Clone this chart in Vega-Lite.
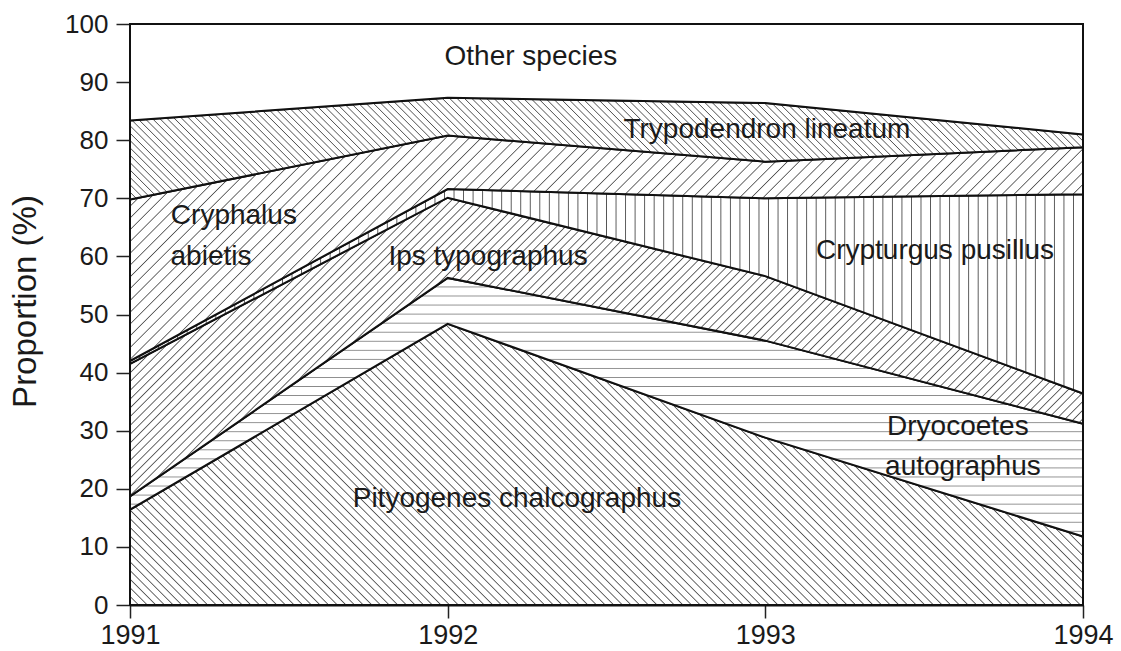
{
  "$schema": "https://vega.github.io/schema/vega-lite/v6.json",
  "width": 953,
  "height": 581,
  "autosize": "none",
  "padding": {"left": 130, "top": 24, "right": 38, "bottom": 46},
  "background": "white",
  "config": {"view": {"stroke": "#111", "strokeWidth": 2}, "font": "Liberation Sans"},
  "layer": [
    {
      "data": {
        "values": [
          {"species": "Pityogenes chalcographus", "rank": 1, "year": 1991, "pct": 16.4},
          {"species": "Pityogenes chalcographus", "rank": 1, "year": 1992, "pct": 48.4},
          {"species": "Pityogenes chalcographus", "rank": 1, "year": 1993, "pct": 28.8},
          {"species": "Pityogenes chalcographus", "rank": 1, "year": 1994, "pct": 11.8},
          {"species": "Dryocoetes autographus", "rank": 2, "year": 1991, "pct": 2.3},
          {"species": "Dryocoetes autographus", "rank": 2, "year": 1992, "pct": 7.9},
          {"species": "Dryocoetes autographus", "rank": 2, "year": 1993, "pct": 16.7},
          {"species": "Dryocoetes autographus", "rank": 2, "year": 1994, "pct": 19.4},
          {"species": "Ips typographus", "rank": 3, "year": 1991, "pct": 22.8},
          {"species": "Ips typographus", "rank": 3, "year": 1992, "pct": 13.8},
          {"species": "Ips typographus", "rank": 3, "year": 1993, "pct": 11.1},
          {"species": "Ips typographus", "rank": 3, "year": 1994, "pct": 5.2},
          {"species": "Crypturgus pusillus", "rank": 4, "year": 1991, "pct": 0.5},
          {"species": "Crypturgus pusillus", "rank": 4, "year": 1992, "pct": 1.5},
          {"species": "Crypturgus pusillus", "rank": 4, "year": 1993, "pct": 13.4},
          {"species": "Crypturgus pusillus", "rank": 4, "year": 1994, "pct": 34.3},
          {"species": "Cryphalus abietis", "rank": 5, "year": 1991, "pct": 27.8},
          {"species": "Cryphalus abietis", "rank": 5, "year": 1992, "pct": 9.2},
          {"species": "Cryphalus abietis", "rank": 5, "year": 1993, "pct": 6.3},
          {"species": "Cryphalus abietis", "rank": 5, "year": 1994, "pct": 8.1},
          {"species": "Trypodendron lineatum", "rank": 6, "year": 1991, "pct": 13.6},
          {"species": "Trypodendron lineatum", "rank": 6, "year": 1992, "pct": 6.5},
          {"species": "Trypodendron lineatum", "rank": 6, "year": 1993, "pct": 10.1},
          {"species": "Trypodendron lineatum", "rank": 6, "year": 1994, "pct": 2.2},
          {"species": "Other species", "rank": 7, "year": 1991, "pct": 16.6},
          {"species": "Other species", "rank": 7, "year": 1992, "pct": 12.7},
          {"species": "Other species", "rank": 7, "year": 1993, "pct": 13.6},
          {"species": "Other species", "rank": 7, "year": 1994, "pct": 19.0}
        ]
      },
      "transform": [
        {"stack": "pct", "groupby": ["year"], "sort": [{"field": "rank", "order": "ascending"}], "as": ["y0", "y1"]}
      ],
      "encoding": {
        "x": {
          "field": "year", "type": "quantitative",
          "scale": {"domain": [1991, 1994], "nice": false, "zero": false},
          "axis": {
            "values": [1991, 1992, 1993, 1994], "format": "d", "title": null, "grid": false,
            "labelFontSize": 27, "labelColor": "#1a1a1a", "labelPadding": 4, "labelFlush": false,
            "tickSize": 13, "tickWidth": 1.5, "tickColor": "#222",
            "domainColor": "#111", "domainWidth": 2
          }
        },
        "y": {
          "field": "y1", "type": "quantitative",
          "scale": {"domain": [0, 100], "nice": false},
          "axis": {
            "values": [0, 10, 20, 30, 40, 50, 60, 70, 80, 90, 100], "grid": false,
            "labelFontSize": 26, "labelColor": "#1a1a1a", "labelPadding": 8,
            "tickSize": 14, "tickWidth": 1.5, "tickColor": "#222",
            "domainColor": "#111", "domainWidth": 2,
            "title": "Proportion (%)", "titleFontSize": 33, "titleFontWeight": "normal",
            "titleColor": "#1a1a1a", "titleBaseline": "alphabetic", "titleX": -95, "titleY": 277
          }
        },
        "y2": {"field": "y0"}
      },
      "layer": [
        {
          "transform": [{"filter": "datum.rank == 1"}],
          "mark": {"type": "area", "stroke": "#111", "strokeWidth": 2, "strokeJoin": "miter",
            "fill": {"gradient": "linear", "x1": 0, "y1": 1, "x2": 1.1914, "y2": 0.6484, "stops": [
{"offset":0,"color":"#555"},{"offset":0.001,"color":"#fff"},{"offset":0.006,"color":"#fff"},
{"offset":0.007,"color":"#555"},{"offset":0.008,"color":"#fff"},{"offset":0.013,"color":"#fff"},
{"offset":0.014,"color":"#555"},{"offset":0.015,"color":"#fff"},{"offset":0.02,"color":"#fff"},
{"offset":0.021,"color":"#555"},{"offset":0.022,"color":"#fff"},{"offset":0.027,"color":"#fff"},
{"offset":0.028,"color":"#555"},{"offset":0.029,"color":"#fff"},{"offset":0.034,"color":"#fff"},
{"offset":0.035,"color":"#555"},{"offset":0.036,"color":"#fff"},{"offset":0.041,"color":"#fff"},
{"offset":0.042,"color":"#555"},{"offset":0.043,"color":"#fff"},{"offset":0.048,"color":"#fff"},
{"offset":0.049,"color":"#555"},{"offset":0.05,"color":"#fff"},{"offset":0.055,"color":"#fff"},
{"offset":0.056,"color":"#555"},{"offset":0.057,"color":"#fff"},{"offset":0.062,"color":"#fff"},
{"offset":0.063,"color":"#555"},{"offset":0.064,"color":"#fff"},{"offset":0.069,"color":"#fff"},
{"offset":0.07,"color":"#555"},{"offset":0.071,"color":"#fff"},{"offset":0.076,"color":"#fff"},
{"offset":0.077,"color":"#555"},{"offset":0.078,"color":"#fff"},{"offset":0.083,"color":"#fff"},
{"offset":0.084,"color":"#555"},{"offset":0.085,"color":"#fff"},{"offset":0.09,"color":"#fff"},
{"offset":0.091,"color":"#555"},{"offset":0.092,"color":"#fff"},{"offset":0.097,"color":"#fff"},
{"offset":0.098,"color":"#555"},{"offset":0.099,"color":"#fff"},{"offset":0.104,"color":"#fff"},
{"offset":0.105,"color":"#555"},{"offset":0.106,"color":"#fff"},{"offset":0.111,"color":"#fff"},
{"offset":0.112,"color":"#555"},{"offset":0.113,"color":"#fff"},{"offset":0.118,"color":"#fff"},
{"offset":0.119,"color":"#555"},{"offset":0.12,"color":"#fff"},{"offset":0.125,"color":"#fff"},
{"offset":0.126,"color":"#555"},{"offset":0.127,"color":"#fff"},{"offset":0.132,"color":"#fff"},
{"offset":0.133,"color":"#555"},{"offset":0.134,"color":"#fff"},{"offset":0.139,"color":"#fff"},
{"offset":0.14,"color":"#555"},{"offset":0.141,"color":"#fff"},{"offset":0.146,"color":"#fff"},
{"offset":0.147,"color":"#555"},{"offset":0.148,"color":"#fff"},{"offset":0.153,"color":"#fff"},
{"offset":0.154,"color":"#555"},{"offset":0.155,"color":"#fff"},{"offset":0.16,"color":"#fff"},
{"offset":0.161,"color":"#555"},{"offset":0.162,"color":"#fff"},{"offset":0.167,"color":"#fff"},
{"offset":0.168,"color":"#555"},{"offset":0.169,"color":"#fff"},{"offset":0.174,"color":"#fff"},
{"offset":0.175,"color":"#555"},{"offset":0.176,"color":"#fff"},{"offset":0.181,"color":"#fff"},
{"offset":0.182,"color":"#555"},{"offset":0.183,"color":"#fff"},{"offset":0.188,"color":"#fff"},
{"offset":0.189,"color":"#555"},{"offset":0.19,"color":"#fff"},{"offset":0.195,"color":"#fff"},
{"offset":0.196,"color":"#555"},{"offset":0.197,"color":"#fff"},{"offset":0.202,"color":"#fff"},
{"offset":0.203,"color":"#555"},{"offset":0.204,"color":"#fff"},{"offset":0.209,"color":"#fff"},
{"offset":0.21,"color":"#555"},{"offset":0.211,"color":"#fff"},{"offset":0.216,"color":"#fff"},
{"offset":0.217,"color":"#555"},{"offset":0.218,"color":"#fff"},{"offset":0.223,"color":"#fff"},
{"offset":0.224,"color":"#555"},{"offset":0.225,"color":"#fff"},{"offset":0.23,"color":"#fff"},
{"offset":0.231,"color":"#555"},{"offset":0.232,"color":"#fff"},{"offset":0.237,"color":"#fff"},
{"offset":0.238,"color":"#555"},{"offset":0.239,"color":"#fff"},{"offset":0.244,"color":"#fff"},
{"offset":0.245,"color":"#555"},{"offset":0.246,"color":"#fff"},{"offset":0.251,"color":"#fff"},
{"offset":0.252,"color":"#555"},{"offset":0.253,"color":"#fff"},{"offset":0.258,"color":"#fff"},
{"offset":0.259,"color":"#555"},{"offset":0.26,"color":"#fff"},{"offset":0.265,"color":"#fff"},
{"offset":0.266,"color":"#555"},{"offset":0.267,"color":"#fff"},{"offset":0.272,"color":"#fff"},
{"offset":0.273,"color":"#555"},{"offset":0.274,"color":"#fff"},{"offset":0.279,"color":"#fff"},
{"offset":0.28,"color":"#555"},{"offset":0.281,"color":"#fff"},{"offset":0.286,"color":"#fff"},
{"offset":0.287,"color":"#555"},{"offset":0.288,"color":"#fff"},{"offset":0.293,"color":"#fff"},
{"offset":0.294,"color":"#555"},{"offset":0.295,"color":"#fff"},{"offset":0.3,"color":"#fff"},
{"offset":0.301,"color":"#555"},{"offset":0.302,"color":"#fff"},{"offset":0.307,"color":"#fff"},
{"offset":0.308,"color":"#555"},{"offset":0.309,"color":"#fff"},{"offset":0.314,"color":"#fff"},
{"offset":0.315,"color":"#555"},{"offset":0.316,"color":"#fff"},{"offset":0.321,"color":"#fff"},
{"offset":0.322,"color":"#555"},{"offset":0.323,"color":"#fff"},{"offset":0.328,"color":"#fff"},
{"offset":0.329,"color":"#555"},{"offset":0.33,"color":"#fff"},{"offset":0.335,"color":"#fff"},
{"offset":0.336,"color":"#555"},{"offset":0.337,"color":"#fff"},{"offset":0.342,"color":"#fff"},
{"offset":0.343,"color":"#555"},{"offset":0.344,"color":"#fff"},{"offset":0.349,"color":"#fff"},
{"offset":0.35,"color":"#555"},{"offset":0.351,"color":"#fff"},{"offset":0.356,"color":"#fff"},
{"offset":0.357,"color":"#555"},{"offset":0.358,"color":"#fff"},{"offset":0.363,"color":"#fff"},
{"offset":0.364,"color":"#555"},{"offset":0.365,"color":"#fff"},{"offset":0.37,"color":"#fff"},
{"offset":0.371,"color":"#555"},{"offset":0.372,"color":"#fff"},{"offset":0.377,"color":"#fff"},
{"offset":0.378,"color":"#555"},{"offset":0.379,"color":"#fff"},{"offset":0.384,"color":"#fff"},
{"offset":0.385,"color":"#555"},{"offset":0.386,"color":"#fff"},{"offset":0.391,"color":"#fff"},
{"offset":0.392,"color":"#555"},{"offset":0.393,"color":"#fff"},{"offset":0.398,"color":"#fff"},
{"offset":0.399,"color":"#555"},{"offset":0.4,"color":"#fff"},{"offset":0.405,"color":"#fff"},
{"offset":0.406,"color":"#555"},{"offset":0.407,"color":"#fff"},{"offset":0.412,"color":"#fff"},
{"offset":0.413,"color":"#555"},{"offset":0.414,"color":"#fff"},{"offset":0.419,"color":"#fff"},
{"offset":0.42,"color":"#555"},{"offset":0.421,"color":"#fff"},{"offset":0.426,"color":"#fff"},
{"offset":0.427,"color":"#555"},{"offset":0.428,"color":"#fff"},{"offset":0.433,"color":"#fff"},
{"offset":0.434,"color":"#555"},{"offset":0.435,"color":"#fff"},{"offset":0.44,"color":"#fff"},
{"offset":0.441,"color":"#555"},{"offset":0.442,"color":"#fff"},{"offset":0.447,"color":"#fff"},
{"offset":0.448,"color":"#555"},{"offset":0.449,"color":"#fff"},{"offset":0.454,"color":"#fff"},
{"offset":0.455,"color":"#555"},{"offset":0.456,"color":"#fff"},{"offset":0.461,"color":"#fff"},
{"offset":0.462,"color":"#555"},{"offset":0.463,"color":"#fff"},{"offset":0.468,"color":"#fff"},
{"offset":0.469,"color":"#555"},{"offset":0.47,"color":"#fff"},{"offset":0.475,"color":"#fff"},
{"offset":0.476,"color":"#555"},{"offset":0.477,"color":"#fff"},{"offset":0.482,"color":"#fff"},
{"offset":0.483,"color":"#555"},{"offset":0.484,"color":"#fff"},{"offset":0.489,"color":"#fff"},
{"offset":0.49,"color":"#555"},{"offset":0.491,"color":"#fff"},{"offset":0.496,"color":"#fff"},
{"offset":0.497,"color":"#555"},{"offset":0.498,"color":"#fff"},{"offset":0.503,"color":"#fff"},
{"offset":0.504,"color":"#555"},{"offset":0.505,"color":"#fff"},{"offset":0.51,"color":"#fff"},
{"offset":0.511,"color":"#555"},{"offset":0.512,"color":"#fff"},{"offset":0.517,"color":"#fff"},
{"offset":0.518,"color":"#555"},{"offset":0.519,"color":"#fff"},{"offset":0.524,"color":"#fff"},
{"offset":0.525,"color":"#555"},{"offset":0.526,"color":"#fff"},{"offset":0.531,"color":"#fff"},
{"offset":0.532,"color":"#555"},{"offset":0.533,"color":"#fff"},{"offset":0.538,"color":"#fff"},
{"offset":0.539,"color":"#555"},{"offset":0.54,"color":"#fff"},{"offset":0.545,"color":"#fff"},
{"offset":0.546,"color":"#555"},{"offset":0.547,"color":"#fff"},{"offset":0.552,"color":"#fff"},
{"offset":0.553,"color":"#555"},{"offset":0.554,"color":"#fff"},{"offset":0.559,"color":"#fff"},
{"offset":0.56,"color":"#555"},{"offset":0.561,"color":"#fff"},{"offset":0.566,"color":"#fff"},
{"offset":0.567,"color":"#555"},{"offset":0.568,"color":"#fff"},{"offset":0.573,"color":"#fff"},
{"offset":0.574,"color":"#555"},{"offset":0.575,"color":"#fff"},{"offset":0.58,"color":"#fff"},
{"offset":0.581,"color":"#555"},{"offset":0.582,"color":"#fff"},{"offset":0.587,"color":"#fff"},
{"offset":0.588,"color":"#555"},{"offset":0.589,"color":"#fff"},{"offset":0.594,"color":"#fff"},
{"offset":0.595,"color":"#555"},{"offset":0.596,"color":"#fff"},{"offset":0.601,"color":"#fff"},
{"offset":0.602,"color":"#555"},{"offset":0.603,"color":"#fff"},{"offset":0.608,"color":"#fff"},
{"offset":0.609,"color":"#555"},{"offset":0.61,"color":"#fff"},{"offset":0.615,"color":"#fff"},
{"offset":0.616,"color":"#555"},{"offset":0.617,"color":"#fff"},{"offset":0.622,"color":"#fff"},
{"offset":0.623,"color":"#555"},{"offset":0.624,"color":"#fff"},{"offset":0.629,"color":"#fff"},
{"offset":0.63,"color":"#555"},{"offset":0.631,"color":"#fff"},{"offset":0.636,"color":"#fff"},
{"offset":0.637,"color":"#555"},{"offset":0.638,"color":"#fff"},{"offset":0.643,"color":"#fff"},
{"offset":0.644,"color":"#555"},{"offset":0.645,"color":"#fff"},{"offset":0.65,"color":"#fff"},
{"offset":0.651,"color":"#555"},{"offset":0.652,"color":"#fff"},{"offset":0.657,"color":"#fff"},
{"offset":0.658,"color":"#555"},{"offset":0.659,"color":"#fff"},{"offset":0.664,"color":"#fff"},
{"offset":0.665,"color":"#555"},{"offset":0.666,"color":"#fff"},{"offset":0.671,"color":"#fff"},
{"offset":0.672,"color":"#555"},{"offset":0.673,"color":"#fff"},{"offset":0.678,"color":"#fff"},
{"offset":0.679,"color":"#555"},{"offset":0.68,"color":"#fff"},{"offset":0.685,"color":"#fff"},
{"offset":0.686,"color":"#555"},{"offset":0.687,"color":"#fff"},{"offset":0.692,"color":"#fff"},
{"offset":0.693,"color":"#555"},{"offset":0.694,"color":"#fff"},{"offset":0.699,"color":"#fff"},
{"offset":0.7,"color":"#555"},{"offset":0.701,"color":"#fff"},{"offset":0.706,"color":"#fff"},
{"offset":0.707,"color":"#555"},{"offset":0.708,"color":"#fff"},{"offset":0.713,"color":"#fff"},
{"offset":0.714,"color":"#555"},{"offset":0.715,"color":"#fff"},{"offset":0.72,"color":"#fff"},
{"offset":0.721,"color":"#555"},{"offset":0.722,"color":"#fff"},{"offset":0.727,"color":"#fff"},
{"offset":0.728,"color":"#555"},{"offset":0.729,"color":"#fff"},{"offset":0.734,"color":"#fff"},
{"offset":0.735,"color":"#555"},{"offset":0.736,"color":"#fff"},{"offset":0.741,"color":"#fff"},
{"offset":0.742,"color":"#555"},{"offset":0.743,"color":"#fff"},{"offset":0.748,"color":"#fff"},
{"offset":0.749,"color":"#555"},{"offset":0.75,"color":"#fff"},{"offset":0.755,"color":"#fff"},
{"offset":0.756,"color":"#555"},{"offset":0.757,"color":"#fff"},{"offset":0.762,"color":"#fff"},
{"offset":0.763,"color":"#555"},{"offset":0.764,"color":"#fff"},{"offset":0.769,"color":"#fff"},
{"offset":0.77,"color":"#555"},{"offset":0.771,"color":"#fff"},{"offset":0.776,"color":"#fff"},
{"offset":0.777,"color":"#555"},{"offset":0.778,"color":"#fff"},{"offset":0.783,"color":"#fff"},
{"offset":0.784,"color":"#555"},{"offset":0.785,"color":"#fff"},{"offset":0.79,"color":"#fff"},
{"offset":0.791,"color":"#555"},{"offset":0.792,"color":"#fff"},{"offset":0.797,"color":"#fff"},
{"offset":0.798,"color":"#555"},{"offset":0.799,"color":"#fff"},{"offset":0.804,"color":"#fff"},
{"offset":0.805,"color":"#555"},{"offset":0.806,"color":"#fff"},{"offset":0.811,"color":"#fff"},
{"offset":0.812,"color":"#555"},{"offset":0.813,"color":"#fff"},{"offset":0.818,"color":"#fff"},
{"offset":0.819,"color":"#555"},{"offset":0.82,"color":"#fff"},{"offset":0.825,"color":"#fff"},
{"offset":0.826,"color":"#555"},{"offset":0.827,"color":"#fff"},{"offset":0.832,"color":"#fff"},
{"offset":0.833,"color":"#555"},{"offset":0.834,"color":"#fff"},{"offset":0.839,"color":"#fff"},
{"offset":0.84,"color":"#555"},{"offset":0.841,"color":"#fff"},{"offset":0.846,"color":"#fff"},
{"offset":0.847,"color":"#555"},{"offset":0.848,"color":"#fff"},{"offset":0.853,"color":"#fff"},
{"offset":0.854,"color":"#555"},{"offset":0.855,"color":"#fff"},{"offset":0.86,"color":"#fff"},
{"offset":0.861,"color":"#555"},{"offset":0.862,"color":"#fff"},{"offset":0.867,"color":"#fff"},
{"offset":0.868,"color":"#555"},{"offset":0.869,"color":"#fff"},{"offset":0.874,"color":"#fff"},
{"offset":0.875,"color":"#555"},{"offset":0.876,"color":"#fff"},{"offset":0.881,"color":"#fff"},
{"offset":0.882,"color":"#555"},{"offset":0.883,"color":"#fff"},{"offset":0.888,"color":"#fff"},
{"offset":0.889,"color":"#555"},{"offset":0.89,"color":"#fff"},{"offset":0.895,"color":"#fff"},
{"offset":0.896,"color":"#555"},{"offset":0.897,"color":"#fff"},{"offset":0.902,"color":"#fff"},
{"offset":0.903,"color":"#555"},{"offset":0.904,"color":"#fff"},{"offset":0.909,"color":"#fff"},
{"offset":0.91,"color":"#555"},{"offset":0.911,"color":"#fff"},{"offset":0.916,"color":"#fff"},
{"offset":0.917,"color":"#555"},{"offset":0.918,"color":"#fff"},{"offset":0.923,"color":"#fff"},
{"offset":0.924,"color":"#555"},{"offset":0.925,"color":"#fff"},{"offset":0.93,"color":"#fff"},
{"offset":0.931,"color":"#555"},{"offset":0.932,"color":"#fff"},{"offset":0.937,"color":"#fff"},
{"offset":0.938,"color":"#555"},{"offset":0.939,"color":"#fff"},{"offset":0.944,"color":"#fff"},
{"offset":0.945,"color":"#555"},{"offset":0.946,"color":"#fff"},{"offset":0.951,"color":"#fff"},
{"offset":0.952,"color":"#555"},{"offset":0.953,"color":"#fff"},{"offset":0.958,"color":"#fff"},
{"offset":0.959,"color":"#555"},{"offset":0.96,"color":"#fff"},{"offset":0.965,"color":"#fff"},
{"offset":0.966,"color":"#555"},{"offset":0.967,"color":"#fff"},{"offset":0.972,"color":"#fff"},
{"offset":0.973,"color":"#555"},{"offset":0.974,"color":"#fff"},{"offset":0.979,"color":"#fff"},
{"offset":0.98,"color":"#555"},{"offset":0.981,"color":"#fff"},{"offset":0.986,"color":"#fff"},
{"offset":0.987,"color":"#555"},{"offset":0.988,"color":"#fff"},{"offset":0.993,"color":"#fff"},
{"offset":0.994,"color":"#555"},{"offset":0.995,"color":"#fff"},{"offset":1,"color":"#fff"}
            ]}}
        },
        {
          "transform": [{"filter": "datum.rank == 2"}],
          "mark": {"type": "area", "stroke": "#111", "strokeWidth": 2, "strokeJoin": "miter",
            "fill": {"gradient": "linear", "x1": 0, "y1": 0, "x2": 0, "y2": 1, "stops": [
{"offset":0,"color":"#888"},{"offset":0.0035,"color":"#fff"},{"offset":0.0315,"color":"#fff"},
{"offset":0.035,"color":"#888"},{"offset":0.0385,"color":"#fff"},{"offset":0.0665,"color":"#fff"},
{"offset":0.07,"color":"#888"},{"offset":0.0735,"color":"#fff"},{"offset":0.1015,"color":"#fff"},
{"offset":0.105,"color":"#888"},{"offset":0.1085,"color":"#fff"},{"offset":0.1365,"color":"#fff"},
{"offset":0.14,"color":"#888"},{"offset":0.1435,"color":"#fff"},{"offset":0.1715,"color":"#fff"},
{"offset":0.175,"color":"#888"},{"offset":0.1785,"color":"#fff"},{"offset":0.2065,"color":"#fff"},
{"offset":0.21,"color":"#888"},{"offset":0.2135,"color":"#fff"},{"offset":0.2415,"color":"#fff"},
{"offset":0.245,"color":"#888"},{"offset":0.2485,"color":"#fff"},{"offset":0.2765,"color":"#fff"},
{"offset":0.28,"color":"#888"},{"offset":0.2835,"color":"#fff"},{"offset":0.3115,"color":"#fff"},
{"offset":0.315,"color":"#888"},{"offset":0.3185,"color":"#fff"},{"offset":0.3465,"color":"#fff"},
{"offset":0.35,"color":"#888"},{"offset":0.3535,"color":"#fff"},{"offset":0.3815,"color":"#fff"},
{"offset":0.385,"color":"#888"},{"offset":0.3885,"color":"#fff"},{"offset":0.4165,"color":"#fff"},
{"offset":0.42,"color":"#888"},{"offset":0.4235,"color":"#fff"},{"offset":0.4515,"color":"#fff"},
{"offset":0.455,"color":"#888"},{"offset":0.4585,"color":"#fff"},{"offset":0.4865,"color":"#fff"},
{"offset":0.49,"color":"#888"},{"offset":0.4935,"color":"#fff"},{"offset":0.5215,"color":"#fff"},
{"offset":0.525,"color":"#888"},{"offset":0.5285,"color":"#fff"},{"offset":0.5565,"color":"#fff"},
{"offset":0.56,"color":"#888"},{"offset":0.5635,"color":"#fff"},{"offset":0.5915,"color":"#fff"},
{"offset":0.595,"color":"#888"},{"offset":0.5985,"color":"#fff"},{"offset":0.6265,"color":"#fff"},
{"offset":0.63,"color":"#888"},{"offset":0.6335,"color":"#fff"},{"offset":0.6615,"color":"#fff"},
{"offset":0.665,"color":"#888"},{"offset":0.6685,"color":"#fff"},{"offset":0.6965,"color":"#fff"},
{"offset":0.7,"color":"#888"},{"offset":0.7035,"color":"#fff"},{"offset":0.7315,"color":"#fff"},
{"offset":0.735,"color":"#888"},{"offset":0.7385,"color":"#fff"},{"offset":0.7665,"color":"#fff"},
{"offset":0.77,"color":"#888"},{"offset":0.7735,"color":"#fff"},{"offset":0.8015,"color":"#fff"},
{"offset":0.805,"color":"#888"},{"offset":0.8085,"color":"#fff"},{"offset":0.8365,"color":"#fff"},
{"offset":0.84,"color":"#888"},{"offset":0.8435,"color":"#fff"},{"offset":0.8715,"color":"#fff"},
{"offset":0.875,"color":"#888"},{"offset":0.8785,"color":"#fff"},{"offset":0.9065,"color":"#fff"},
{"offset":0.91,"color":"#888"},{"offset":0.9135,"color":"#fff"},{"offset":0.9415,"color":"#fff"},
{"offset":0.945,"color":"#888"},{"offset":0.9485,"color":"#fff"},{"offset":0.9765,"color":"#fff"},
{"offset":0.98,"color":"#888"},{"offset":0.9835,"color":"#fff"},{"offset":1,"color":"#fff"}
            ]}}
        },
        {
          "transform": [{"filter": "datum.rank == 3"}],
          "mark": {"type": "area", "stroke": "#111", "strokeWidth": 2, "strokeJoin": "miter",
            "fill": {"gradient": "linear", "x1": 0, "y1": 0, "x2": 1.1959, "y2": 0.3747, "stops": [
{"offset":0,"color":"#555"},{"offset":0.001,"color":"#fff"},{"offset":0.006,"color":"#fff"},
{"offset":0.007,"color":"#555"},{"offset":0.008,"color":"#fff"},{"offset":0.013,"color":"#fff"},
{"offset":0.014,"color":"#555"},{"offset":0.015,"color":"#fff"},{"offset":0.02,"color":"#fff"},
{"offset":0.021,"color":"#555"},{"offset":0.022,"color":"#fff"},{"offset":0.027,"color":"#fff"},
{"offset":0.028,"color":"#555"},{"offset":0.029,"color":"#fff"},{"offset":0.034,"color":"#fff"},
{"offset":0.035,"color":"#555"},{"offset":0.036,"color":"#fff"},{"offset":0.041,"color":"#fff"},
{"offset":0.042,"color":"#555"},{"offset":0.043,"color":"#fff"},{"offset":0.048,"color":"#fff"},
{"offset":0.049,"color":"#555"},{"offset":0.05,"color":"#fff"},{"offset":0.055,"color":"#fff"},
{"offset":0.056,"color":"#555"},{"offset":0.057,"color":"#fff"},{"offset":0.062,"color":"#fff"},
{"offset":0.063,"color":"#555"},{"offset":0.064,"color":"#fff"},{"offset":0.069,"color":"#fff"},
{"offset":0.07,"color":"#555"},{"offset":0.071,"color":"#fff"},{"offset":0.076,"color":"#fff"},
{"offset":0.077,"color":"#555"},{"offset":0.078,"color":"#fff"},{"offset":0.083,"color":"#fff"},
{"offset":0.084,"color":"#555"},{"offset":0.085,"color":"#fff"},{"offset":0.09,"color":"#fff"},
{"offset":0.091,"color":"#555"},{"offset":0.092,"color":"#fff"},{"offset":0.097,"color":"#fff"},
{"offset":0.098,"color":"#555"},{"offset":0.099,"color":"#fff"},{"offset":0.104,"color":"#fff"},
{"offset":0.105,"color":"#555"},{"offset":0.106,"color":"#fff"},{"offset":0.111,"color":"#fff"},
{"offset":0.112,"color":"#555"},{"offset":0.113,"color":"#fff"},{"offset":0.118,"color":"#fff"},
{"offset":0.119,"color":"#555"},{"offset":0.12,"color":"#fff"},{"offset":0.125,"color":"#fff"},
{"offset":0.126,"color":"#555"},{"offset":0.127,"color":"#fff"},{"offset":0.132,"color":"#fff"},
{"offset":0.133,"color":"#555"},{"offset":0.134,"color":"#fff"},{"offset":0.139,"color":"#fff"},
{"offset":0.14,"color":"#555"},{"offset":0.141,"color":"#fff"},{"offset":0.146,"color":"#fff"},
{"offset":0.147,"color":"#555"},{"offset":0.148,"color":"#fff"},{"offset":0.153,"color":"#fff"},
{"offset":0.154,"color":"#555"},{"offset":0.155,"color":"#fff"},{"offset":0.16,"color":"#fff"},
{"offset":0.161,"color":"#555"},{"offset":0.162,"color":"#fff"},{"offset":0.167,"color":"#fff"},
{"offset":0.168,"color":"#555"},{"offset":0.169,"color":"#fff"},{"offset":0.174,"color":"#fff"},
{"offset":0.175,"color":"#555"},{"offset":0.176,"color":"#fff"},{"offset":0.181,"color":"#fff"},
{"offset":0.182,"color":"#555"},{"offset":0.183,"color":"#fff"},{"offset":0.188,"color":"#fff"},
{"offset":0.189,"color":"#555"},{"offset":0.19,"color":"#fff"},{"offset":0.195,"color":"#fff"},
{"offset":0.196,"color":"#555"},{"offset":0.197,"color":"#fff"},{"offset":0.202,"color":"#fff"},
{"offset":0.203,"color":"#555"},{"offset":0.204,"color":"#fff"},{"offset":0.209,"color":"#fff"},
{"offset":0.21,"color":"#555"},{"offset":0.211,"color":"#fff"},{"offset":0.216,"color":"#fff"},
{"offset":0.217,"color":"#555"},{"offset":0.218,"color":"#fff"},{"offset":0.223,"color":"#fff"},
{"offset":0.224,"color":"#555"},{"offset":0.225,"color":"#fff"},{"offset":0.23,"color":"#fff"},
{"offset":0.231,"color":"#555"},{"offset":0.232,"color":"#fff"},{"offset":0.237,"color":"#fff"},
{"offset":0.238,"color":"#555"},{"offset":0.239,"color":"#fff"},{"offset":0.244,"color":"#fff"},
{"offset":0.245,"color":"#555"},{"offset":0.246,"color":"#fff"},{"offset":0.251,"color":"#fff"},
{"offset":0.252,"color":"#555"},{"offset":0.253,"color":"#fff"},{"offset":0.258,"color":"#fff"},
{"offset":0.259,"color":"#555"},{"offset":0.26,"color":"#fff"},{"offset":0.265,"color":"#fff"},
{"offset":0.266,"color":"#555"},{"offset":0.267,"color":"#fff"},{"offset":0.272,"color":"#fff"},
{"offset":0.273,"color":"#555"},{"offset":0.274,"color":"#fff"},{"offset":0.279,"color":"#fff"},
{"offset":0.28,"color":"#555"},{"offset":0.281,"color":"#fff"},{"offset":0.286,"color":"#fff"},
{"offset":0.287,"color":"#555"},{"offset":0.288,"color":"#fff"},{"offset":0.293,"color":"#fff"},
{"offset":0.294,"color":"#555"},{"offset":0.295,"color":"#fff"},{"offset":0.3,"color":"#fff"},
{"offset":0.301,"color":"#555"},{"offset":0.302,"color":"#fff"},{"offset":0.307,"color":"#fff"},
{"offset":0.308,"color":"#555"},{"offset":0.309,"color":"#fff"},{"offset":0.314,"color":"#fff"},
{"offset":0.315,"color":"#555"},{"offset":0.316,"color":"#fff"},{"offset":0.321,"color":"#fff"},
{"offset":0.322,"color":"#555"},{"offset":0.323,"color":"#fff"},{"offset":0.328,"color":"#fff"},
{"offset":0.329,"color":"#555"},{"offset":0.33,"color":"#fff"},{"offset":0.335,"color":"#fff"},
{"offset":0.336,"color":"#555"},{"offset":0.337,"color":"#fff"},{"offset":0.342,"color":"#fff"},
{"offset":0.343,"color":"#555"},{"offset":0.344,"color":"#fff"},{"offset":0.349,"color":"#fff"},
{"offset":0.35,"color":"#555"},{"offset":0.351,"color":"#fff"},{"offset":0.356,"color":"#fff"},
{"offset":0.357,"color":"#555"},{"offset":0.358,"color":"#fff"},{"offset":0.363,"color":"#fff"},
{"offset":0.364,"color":"#555"},{"offset":0.365,"color":"#fff"},{"offset":0.37,"color":"#fff"},
{"offset":0.371,"color":"#555"},{"offset":0.372,"color":"#fff"},{"offset":0.377,"color":"#fff"},
{"offset":0.378,"color":"#555"},{"offset":0.379,"color":"#fff"},{"offset":0.384,"color":"#fff"},
{"offset":0.385,"color":"#555"},{"offset":0.386,"color":"#fff"},{"offset":0.391,"color":"#fff"},
{"offset":0.392,"color":"#555"},{"offset":0.393,"color":"#fff"},{"offset":0.398,"color":"#fff"},
{"offset":0.399,"color":"#555"},{"offset":0.4,"color":"#fff"},{"offset":0.405,"color":"#fff"},
{"offset":0.406,"color":"#555"},{"offset":0.407,"color":"#fff"},{"offset":0.412,"color":"#fff"},
{"offset":0.413,"color":"#555"},{"offset":0.414,"color":"#fff"},{"offset":0.419,"color":"#fff"},
{"offset":0.42,"color":"#555"},{"offset":0.421,"color":"#fff"},{"offset":0.426,"color":"#fff"},
{"offset":0.427,"color":"#555"},{"offset":0.428,"color":"#fff"},{"offset":0.433,"color":"#fff"},
{"offset":0.434,"color":"#555"},{"offset":0.435,"color":"#fff"},{"offset":0.44,"color":"#fff"},
{"offset":0.441,"color":"#555"},{"offset":0.442,"color":"#fff"},{"offset":0.447,"color":"#fff"},
{"offset":0.448,"color":"#555"},{"offset":0.449,"color":"#fff"},{"offset":0.454,"color":"#fff"},
{"offset":0.455,"color":"#555"},{"offset":0.456,"color":"#fff"},{"offset":0.461,"color":"#fff"},
{"offset":0.462,"color":"#555"},{"offset":0.463,"color":"#fff"},{"offset":0.468,"color":"#fff"},
{"offset":0.469,"color":"#555"},{"offset":0.47,"color":"#fff"},{"offset":0.475,"color":"#fff"},
{"offset":0.476,"color":"#555"},{"offset":0.477,"color":"#fff"},{"offset":0.482,"color":"#fff"},
{"offset":0.483,"color":"#555"},{"offset":0.484,"color":"#fff"},{"offset":0.489,"color":"#fff"},
{"offset":0.49,"color":"#555"},{"offset":0.491,"color":"#fff"},{"offset":0.496,"color":"#fff"},
{"offset":0.497,"color":"#555"},{"offset":0.498,"color":"#fff"},{"offset":0.503,"color":"#fff"},
{"offset":0.504,"color":"#555"},{"offset":0.505,"color":"#fff"},{"offset":0.51,"color":"#fff"},
{"offset":0.511,"color":"#555"},{"offset":0.512,"color":"#fff"},{"offset":0.517,"color":"#fff"},
{"offset":0.518,"color":"#555"},{"offset":0.519,"color":"#fff"},{"offset":0.524,"color":"#fff"},
{"offset":0.525,"color":"#555"},{"offset":0.526,"color":"#fff"},{"offset":0.531,"color":"#fff"},
{"offset":0.532,"color":"#555"},{"offset":0.533,"color":"#fff"},{"offset":0.538,"color":"#fff"},
{"offset":0.539,"color":"#555"},{"offset":0.54,"color":"#fff"},{"offset":0.545,"color":"#fff"},
{"offset":0.546,"color":"#555"},{"offset":0.547,"color":"#fff"},{"offset":0.552,"color":"#fff"},
{"offset":0.553,"color":"#555"},{"offset":0.554,"color":"#fff"},{"offset":0.559,"color":"#fff"},
{"offset":0.56,"color":"#555"},{"offset":0.561,"color":"#fff"},{"offset":0.566,"color":"#fff"},
{"offset":0.567,"color":"#555"},{"offset":0.568,"color":"#fff"},{"offset":0.573,"color":"#fff"},
{"offset":0.574,"color":"#555"},{"offset":0.575,"color":"#fff"},{"offset":0.58,"color":"#fff"},
{"offset":0.581,"color":"#555"},{"offset":0.582,"color":"#fff"},{"offset":0.587,"color":"#fff"},
{"offset":0.588,"color":"#555"},{"offset":0.589,"color":"#fff"},{"offset":0.594,"color":"#fff"},
{"offset":0.595,"color":"#555"},{"offset":0.596,"color":"#fff"},{"offset":0.601,"color":"#fff"},
{"offset":0.602,"color":"#555"},{"offset":0.603,"color":"#fff"},{"offset":0.608,"color":"#fff"},
{"offset":0.609,"color":"#555"},{"offset":0.61,"color":"#fff"},{"offset":0.615,"color":"#fff"},
{"offset":0.616,"color":"#555"},{"offset":0.617,"color":"#fff"},{"offset":0.622,"color":"#fff"},
{"offset":0.623,"color":"#555"},{"offset":0.624,"color":"#fff"},{"offset":0.629,"color":"#fff"},
{"offset":0.63,"color":"#555"},{"offset":0.631,"color":"#fff"},{"offset":0.636,"color":"#fff"},
{"offset":0.637,"color":"#555"},{"offset":0.638,"color":"#fff"},{"offset":0.643,"color":"#fff"},
{"offset":0.644,"color":"#555"},{"offset":0.645,"color":"#fff"},{"offset":0.65,"color":"#fff"},
{"offset":0.651,"color":"#555"},{"offset":0.652,"color":"#fff"},{"offset":0.657,"color":"#fff"},
{"offset":0.658,"color":"#555"},{"offset":0.659,"color":"#fff"},{"offset":0.664,"color":"#fff"},
{"offset":0.665,"color":"#555"},{"offset":0.666,"color":"#fff"},{"offset":0.671,"color":"#fff"},
{"offset":0.672,"color":"#555"},{"offset":0.673,"color":"#fff"},{"offset":0.678,"color":"#fff"},
{"offset":0.679,"color":"#555"},{"offset":0.68,"color":"#fff"},{"offset":0.685,"color":"#fff"},
{"offset":0.686,"color":"#555"},{"offset":0.687,"color":"#fff"},{"offset":0.692,"color":"#fff"},
{"offset":0.693,"color":"#555"},{"offset":0.694,"color":"#fff"},{"offset":0.699,"color":"#fff"},
{"offset":0.7,"color":"#555"},{"offset":0.701,"color":"#fff"},{"offset":0.706,"color":"#fff"},
{"offset":0.707,"color":"#555"},{"offset":0.708,"color":"#fff"},{"offset":0.713,"color":"#fff"},
{"offset":0.714,"color":"#555"},{"offset":0.715,"color":"#fff"},{"offset":0.72,"color":"#fff"},
{"offset":0.721,"color":"#555"},{"offset":0.722,"color":"#fff"},{"offset":0.727,"color":"#fff"},
{"offset":0.728,"color":"#555"},{"offset":0.729,"color":"#fff"},{"offset":0.734,"color":"#fff"},
{"offset":0.735,"color":"#555"},{"offset":0.736,"color":"#fff"},{"offset":0.741,"color":"#fff"},
{"offset":0.742,"color":"#555"},{"offset":0.743,"color":"#fff"},{"offset":0.748,"color":"#fff"},
{"offset":0.749,"color":"#555"},{"offset":0.75,"color":"#fff"},{"offset":0.755,"color":"#fff"},
{"offset":0.756,"color":"#555"},{"offset":0.757,"color":"#fff"},{"offset":0.762,"color":"#fff"},
{"offset":0.763,"color":"#555"},{"offset":0.764,"color":"#fff"},{"offset":0.769,"color":"#fff"},
{"offset":0.77,"color":"#555"},{"offset":0.771,"color":"#fff"},{"offset":0.776,"color":"#fff"},
{"offset":0.777,"color":"#555"},{"offset":0.778,"color":"#fff"},{"offset":0.783,"color":"#fff"},
{"offset":0.784,"color":"#555"},{"offset":0.785,"color":"#fff"},{"offset":0.79,"color":"#fff"},
{"offset":0.791,"color":"#555"},{"offset":0.792,"color":"#fff"},{"offset":0.797,"color":"#fff"},
{"offset":0.798,"color":"#555"},{"offset":0.799,"color":"#fff"},{"offset":0.804,"color":"#fff"},
{"offset":0.805,"color":"#555"},{"offset":0.806,"color":"#fff"},{"offset":0.811,"color":"#fff"},
{"offset":0.812,"color":"#555"},{"offset":0.813,"color":"#fff"},{"offset":0.818,"color":"#fff"},
{"offset":0.819,"color":"#555"},{"offset":0.82,"color":"#fff"},{"offset":0.825,"color":"#fff"},
{"offset":0.826,"color":"#555"},{"offset":0.827,"color":"#fff"},{"offset":0.832,"color":"#fff"},
{"offset":0.833,"color":"#555"},{"offset":0.834,"color":"#fff"},{"offset":0.839,"color":"#fff"},
{"offset":0.84,"color":"#555"},{"offset":0.841,"color":"#fff"},{"offset":0.846,"color":"#fff"},
{"offset":0.847,"color":"#555"},{"offset":0.848,"color":"#fff"},{"offset":0.853,"color":"#fff"},
{"offset":0.854,"color":"#555"},{"offset":0.855,"color":"#fff"},{"offset":0.86,"color":"#fff"},
{"offset":0.861,"color":"#555"},{"offset":0.862,"color":"#fff"},{"offset":0.867,"color":"#fff"},
{"offset":0.868,"color":"#555"},{"offset":0.869,"color":"#fff"},{"offset":0.874,"color":"#fff"},
{"offset":0.875,"color":"#555"},{"offset":0.876,"color":"#fff"},{"offset":0.881,"color":"#fff"},
{"offset":0.882,"color":"#555"},{"offset":0.883,"color":"#fff"},{"offset":0.888,"color":"#fff"},
{"offset":0.889,"color":"#555"},{"offset":0.89,"color":"#fff"},{"offset":0.895,"color":"#fff"},
{"offset":0.896,"color":"#555"},{"offset":0.897,"color":"#fff"},{"offset":0.902,"color":"#fff"},
{"offset":0.903,"color":"#555"},{"offset":0.904,"color":"#fff"},{"offset":0.909,"color":"#fff"},
{"offset":0.91,"color":"#555"},{"offset":0.911,"color":"#fff"},{"offset":0.916,"color":"#fff"},
{"offset":0.917,"color":"#555"},{"offset":0.918,"color":"#fff"},{"offset":0.923,"color":"#fff"},
{"offset":0.924,"color":"#555"},{"offset":0.925,"color":"#fff"},{"offset":0.93,"color":"#fff"},
{"offset":0.931,"color":"#555"},{"offset":0.932,"color":"#fff"},{"offset":0.937,"color":"#fff"},
{"offset":0.938,"color":"#555"},{"offset":0.939,"color":"#fff"},{"offset":0.944,"color":"#fff"},
{"offset":0.945,"color":"#555"},{"offset":0.946,"color":"#fff"},{"offset":0.951,"color":"#fff"},
{"offset":0.952,"color":"#555"},{"offset":0.953,"color":"#fff"},{"offset":0.958,"color":"#fff"},
{"offset":0.959,"color":"#555"},{"offset":0.96,"color":"#fff"},{"offset":0.965,"color":"#fff"},
{"offset":0.966,"color":"#555"},{"offset":0.967,"color":"#fff"},{"offset":0.972,"color":"#fff"},
{"offset":0.973,"color":"#555"},{"offset":0.974,"color":"#fff"},{"offset":0.979,"color":"#fff"},
{"offset":0.98,"color":"#555"},{"offset":0.981,"color":"#fff"},{"offset":0.986,"color":"#fff"},
{"offset":0.987,"color":"#555"},{"offset":0.988,"color":"#fff"},{"offset":0.993,"color":"#fff"},
{"offset":0.994,"color":"#555"},{"offset":0.995,"color":"#fff"},{"offset":1,"color":"#fff"}
            ]}}
        },
        {
          "transform": [{"filter": "datum.rank == 4"}],
          "mark": {"type": "area", "stroke": "#111", "strokeWidth": 2, "strokeJoin": "miter",
            "fill": {"gradient": "linear", "x1": 0, "y1": 0, "x2": 1, "y2": 0, "stops": [
{"offset":0,"color":"#555"},{"offset":0.001,"color":"#fff"},{"offset":0.009,"color":"#fff"},
{"offset":0.01,"color":"#555"},{"offset":0.011,"color":"#fff"},{"offset":0.019,"color":"#fff"},
{"offset":0.02,"color":"#555"},{"offset":0.021,"color":"#fff"},{"offset":0.029,"color":"#fff"},
{"offset":0.03,"color":"#555"},{"offset":0.031,"color":"#fff"},{"offset":0.039,"color":"#fff"},
{"offset":0.04,"color":"#555"},{"offset":0.041,"color":"#fff"},{"offset":0.049,"color":"#fff"},
{"offset":0.05,"color":"#555"},{"offset":0.051,"color":"#fff"},{"offset":0.059,"color":"#fff"},
{"offset":0.06,"color":"#555"},{"offset":0.061,"color":"#fff"},{"offset":0.069,"color":"#fff"},
{"offset":0.07,"color":"#555"},{"offset":0.071,"color":"#fff"},{"offset":0.079,"color":"#fff"},
{"offset":0.08,"color":"#555"},{"offset":0.081,"color":"#fff"},{"offset":0.089,"color":"#fff"},
{"offset":0.09,"color":"#555"},{"offset":0.091,"color":"#fff"},{"offset":0.099,"color":"#fff"},
{"offset":0.1,"color":"#555"},{"offset":0.101,"color":"#fff"},{"offset":0.109,"color":"#fff"},
{"offset":0.11,"color":"#555"},{"offset":0.111,"color":"#fff"},{"offset":0.119,"color":"#fff"},
{"offset":0.12,"color":"#555"},{"offset":0.121,"color":"#fff"},{"offset":0.129,"color":"#fff"},
{"offset":0.13,"color":"#555"},{"offset":0.131,"color":"#fff"},{"offset":0.139,"color":"#fff"},
{"offset":0.14,"color":"#555"},{"offset":0.141,"color":"#fff"},{"offset":0.149,"color":"#fff"},
{"offset":0.15,"color":"#555"},{"offset":0.151,"color":"#fff"},{"offset":0.159,"color":"#fff"},
{"offset":0.16,"color":"#555"},{"offset":0.161,"color":"#fff"},{"offset":0.169,"color":"#fff"},
{"offset":0.17,"color":"#555"},{"offset":0.171,"color":"#fff"},{"offset":0.179,"color":"#fff"},
{"offset":0.18,"color":"#555"},{"offset":0.181,"color":"#fff"},{"offset":0.189,"color":"#fff"},
{"offset":0.19,"color":"#555"},{"offset":0.191,"color":"#fff"},{"offset":0.199,"color":"#fff"},
{"offset":0.2,"color":"#555"},{"offset":0.201,"color":"#fff"},{"offset":0.209,"color":"#fff"},
{"offset":0.21,"color":"#555"},{"offset":0.211,"color":"#fff"},{"offset":0.219,"color":"#fff"},
{"offset":0.22,"color":"#555"},{"offset":0.221,"color":"#fff"},{"offset":0.229,"color":"#fff"},
{"offset":0.23,"color":"#555"},{"offset":0.231,"color":"#fff"},{"offset":0.239,"color":"#fff"},
{"offset":0.24,"color":"#555"},{"offset":0.241,"color":"#fff"},{"offset":0.249,"color":"#fff"},
{"offset":0.25,"color":"#555"},{"offset":0.251,"color":"#fff"},{"offset":0.259,"color":"#fff"},
{"offset":0.26,"color":"#555"},{"offset":0.261,"color":"#fff"},{"offset":0.269,"color":"#fff"},
{"offset":0.27,"color":"#555"},{"offset":0.271,"color":"#fff"},{"offset":0.279,"color":"#fff"},
{"offset":0.28,"color":"#555"},{"offset":0.281,"color":"#fff"},{"offset":0.289,"color":"#fff"},
{"offset":0.29,"color":"#555"},{"offset":0.291,"color":"#fff"},{"offset":0.299,"color":"#fff"},
{"offset":0.3,"color":"#555"},{"offset":0.301,"color":"#fff"},{"offset":0.309,"color":"#fff"},
{"offset":0.31,"color":"#555"},{"offset":0.311,"color":"#fff"},{"offset":0.319,"color":"#fff"},
{"offset":0.32,"color":"#555"},{"offset":0.321,"color":"#fff"},{"offset":0.329,"color":"#fff"},
{"offset":0.33,"color":"#555"},{"offset":0.331,"color":"#fff"},{"offset":0.339,"color":"#fff"},
{"offset":0.34,"color":"#555"},{"offset":0.341,"color":"#fff"},{"offset":0.349,"color":"#fff"},
{"offset":0.35,"color":"#555"},{"offset":0.351,"color":"#fff"},{"offset":0.359,"color":"#fff"},
{"offset":0.36,"color":"#555"},{"offset":0.361,"color":"#fff"},{"offset":0.369,"color":"#fff"},
{"offset":0.37,"color":"#555"},{"offset":0.371,"color":"#fff"},{"offset":0.379,"color":"#fff"},
{"offset":0.38,"color":"#555"},{"offset":0.381,"color":"#fff"},{"offset":0.389,"color":"#fff"},
{"offset":0.39,"color":"#555"},{"offset":0.391,"color":"#fff"},{"offset":0.399,"color":"#fff"},
{"offset":0.4,"color":"#555"},{"offset":0.401,"color":"#fff"},{"offset":0.409,"color":"#fff"},
{"offset":0.41,"color":"#555"},{"offset":0.411,"color":"#fff"},{"offset":0.419,"color":"#fff"},
{"offset":0.42,"color":"#555"},{"offset":0.421,"color":"#fff"},{"offset":0.429,"color":"#fff"},
{"offset":0.43,"color":"#555"},{"offset":0.431,"color":"#fff"},{"offset":0.439,"color":"#fff"},
{"offset":0.44,"color":"#555"},{"offset":0.441,"color":"#fff"},{"offset":0.449,"color":"#fff"},
{"offset":0.45,"color":"#555"},{"offset":0.451,"color":"#fff"},{"offset":0.459,"color":"#fff"},
{"offset":0.46,"color":"#555"},{"offset":0.461,"color":"#fff"},{"offset":0.469,"color":"#fff"},
{"offset":0.47,"color":"#555"},{"offset":0.471,"color":"#fff"},{"offset":0.479,"color":"#fff"},
{"offset":0.48,"color":"#555"},{"offset":0.481,"color":"#fff"},{"offset":0.489,"color":"#fff"},
{"offset":0.49,"color":"#555"},{"offset":0.491,"color":"#fff"},{"offset":0.499,"color":"#fff"},
{"offset":0.5,"color":"#555"},{"offset":0.501,"color":"#fff"},{"offset":0.509,"color":"#fff"},
{"offset":0.51,"color":"#555"},{"offset":0.511,"color":"#fff"},{"offset":0.519,"color":"#fff"},
{"offset":0.52,"color":"#555"},{"offset":0.521,"color":"#fff"},{"offset":0.529,"color":"#fff"},
{"offset":0.53,"color":"#555"},{"offset":0.531,"color":"#fff"},{"offset":0.539,"color":"#fff"},
{"offset":0.54,"color":"#555"},{"offset":0.541,"color":"#fff"},{"offset":0.549,"color":"#fff"},
{"offset":0.55,"color":"#555"},{"offset":0.551,"color":"#fff"},{"offset":0.559,"color":"#fff"},
{"offset":0.56,"color":"#555"},{"offset":0.561,"color":"#fff"},{"offset":0.569,"color":"#fff"},
{"offset":0.57,"color":"#555"},{"offset":0.571,"color":"#fff"},{"offset":0.579,"color":"#fff"},
{"offset":0.58,"color":"#555"},{"offset":0.581,"color":"#fff"},{"offset":0.589,"color":"#fff"},
{"offset":0.59,"color":"#555"},{"offset":0.591,"color":"#fff"},{"offset":0.599,"color":"#fff"},
{"offset":0.6,"color":"#555"},{"offset":0.601,"color":"#fff"},{"offset":0.609,"color":"#fff"},
{"offset":0.61,"color":"#555"},{"offset":0.611,"color":"#fff"},{"offset":0.619,"color":"#fff"},
{"offset":0.62,"color":"#555"},{"offset":0.621,"color":"#fff"},{"offset":0.629,"color":"#fff"},
{"offset":0.63,"color":"#555"},{"offset":0.631,"color":"#fff"},{"offset":0.639,"color":"#fff"},
{"offset":0.64,"color":"#555"},{"offset":0.641,"color":"#fff"},{"offset":0.649,"color":"#fff"},
{"offset":0.65,"color":"#555"},{"offset":0.651,"color":"#fff"},{"offset":0.659,"color":"#fff"},
{"offset":0.66,"color":"#555"},{"offset":0.661,"color":"#fff"},{"offset":0.669,"color":"#fff"},
{"offset":0.67,"color":"#555"},{"offset":0.671,"color":"#fff"},{"offset":0.679,"color":"#fff"},
{"offset":0.68,"color":"#555"},{"offset":0.681,"color":"#fff"},{"offset":0.689,"color":"#fff"},
{"offset":0.69,"color":"#555"},{"offset":0.691,"color":"#fff"},{"offset":0.699,"color":"#fff"},
{"offset":0.7,"color":"#555"},{"offset":0.701,"color":"#fff"},{"offset":0.709,"color":"#fff"},
{"offset":0.71,"color":"#555"},{"offset":0.711,"color":"#fff"},{"offset":0.719,"color":"#fff"},
{"offset":0.72,"color":"#555"},{"offset":0.721,"color":"#fff"},{"offset":0.729,"color":"#fff"},
{"offset":0.73,"color":"#555"},{"offset":0.731,"color":"#fff"},{"offset":0.739,"color":"#fff"},
{"offset":0.74,"color":"#555"},{"offset":0.741,"color":"#fff"},{"offset":0.749,"color":"#fff"},
{"offset":0.75,"color":"#555"},{"offset":0.751,"color":"#fff"},{"offset":0.759,"color":"#fff"},
{"offset":0.76,"color":"#555"},{"offset":0.761,"color":"#fff"},{"offset":0.769,"color":"#fff"},
{"offset":0.77,"color":"#555"},{"offset":0.771,"color":"#fff"},{"offset":0.779,"color":"#fff"},
{"offset":0.78,"color":"#555"},{"offset":0.781,"color":"#fff"},{"offset":0.789,"color":"#fff"},
{"offset":0.79,"color":"#555"},{"offset":0.791,"color":"#fff"},{"offset":0.799,"color":"#fff"},
{"offset":0.8,"color":"#555"},{"offset":0.801,"color":"#fff"},{"offset":0.809,"color":"#fff"},
{"offset":0.81,"color":"#555"},{"offset":0.811,"color":"#fff"},{"offset":0.819,"color":"#fff"},
{"offset":0.82,"color":"#555"},{"offset":0.821,"color":"#fff"},{"offset":0.829,"color":"#fff"},
{"offset":0.83,"color":"#555"},{"offset":0.831,"color":"#fff"},{"offset":0.839,"color":"#fff"},
{"offset":0.84,"color":"#555"},{"offset":0.841,"color":"#fff"},{"offset":0.849,"color":"#fff"},
{"offset":0.85,"color":"#555"},{"offset":0.851,"color":"#fff"},{"offset":0.859,"color":"#fff"},
{"offset":0.86,"color":"#555"},{"offset":0.861,"color":"#fff"},{"offset":0.869,"color":"#fff"},
{"offset":0.87,"color":"#555"},{"offset":0.871,"color":"#fff"},{"offset":0.879,"color":"#fff"},
{"offset":0.88,"color":"#555"},{"offset":0.881,"color":"#fff"},{"offset":0.889,"color":"#fff"},
{"offset":0.89,"color":"#555"},{"offset":0.891,"color":"#fff"},{"offset":0.899,"color":"#fff"},
{"offset":0.9,"color":"#555"},{"offset":0.901,"color":"#fff"},{"offset":0.909,"color":"#fff"},
{"offset":0.91,"color":"#555"},{"offset":0.911,"color":"#fff"},{"offset":0.919,"color":"#fff"},
{"offset":0.92,"color":"#555"},{"offset":0.921,"color":"#fff"},{"offset":0.929,"color":"#fff"},
{"offset":0.93,"color":"#555"},{"offset":0.931,"color":"#fff"},{"offset":0.939,"color":"#fff"},
{"offset":0.94,"color":"#555"},{"offset":0.941,"color":"#fff"},{"offset":0.949,"color":"#fff"},
{"offset":0.95,"color":"#555"},{"offset":0.951,"color":"#fff"},{"offset":0.959,"color":"#fff"},
{"offset":0.96,"color":"#555"},{"offset":0.961,"color":"#fff"},{"offset":0.969,"color":"#fff"},
{"offset":0.97,"color":"#555"},{"offset":0.971,"color":"#fff"},{"offset":0.979,"color":"#fff"},
{"offset":0.98,"color":"#555"},{"offset":0.981,"color":"#fff"},{"offset":0.989,"color":"#fff"},
{"offset":0.99,"color":"#555"},{"offset":0.991,"color":"#fff"},{"offset":1,"color":"#fff"}
            ]}}
        },
        {
          "transform": [{"filter": "datum.rank == 5"}],
          "mark": {"type": "area", "stroke": "#111", "strokeWidth": 2, "strokeJoin": "miter",
            "fill": {"gradient": "linear", "x1": 0, "y1": 0, "x2": 1.171, "y2": 0.2769, "stops": [
{"offset":0,"color":"#555"},{"offset":0.001,"color":"#fff"},{"offset":0.009,"color":"#fff"},
{"offset":0.01,"color":"#555"},{"offset":0.011,"color":"#fff"},{"offset":0.019,"color":"#fff"},
{"offset":0.02,"color":"#555"},{"offset":0.021,"color":"#fff"},{"offset":0.029,"color":"#fff"},
{"offset":0.03,"color":"#555"},{"offset":0.031,"color":"#fff"},{"offset":0.039,"color":"#fff"},
{"offset":0.04,"color":"#555"},{"offset":0.041,"color":"#fff"},{"offset":0.049,"color":"#fff"},
{"offset":0.05,"color":"#555"},{"offset":0.051,"color":"#fff"},{"offset":0.059,"color":"#fff"},
{"offset":0.06,"color":"#555"},{"offset":0.061,"color":"#fff"},{"offset":0.069,"color":"#fff"},
{"offset":0.07,"color":"#555"},{"offset":0.071,"color":"#fff"},{"offset":0.079,"color":"#fff"},
{"offset":0.08,"color":"#555"},{"offset":0.081,"color":"#fff"},{"offset":0.089,"color":"#fff"},
{"offset":0.09,"color":"#555"},{"offset":0.091,"color":"#fff"},{"offset":0.099,"color":"#fff"},
{"offset":0.1,"color":"#555"},{"offset":0.101,"color":"#fff"},{"offset":0.109,"color":"#fff"},
{"offset":0.11,"color":"#555"},{"offset":0.111,"color":"#fff"},{"offset":0.119,"color":"#fff"},
{"offset":0.12,"color":"#555"},{"offset":0.121,"color":"#fff"},{"offset":0.129,"color":"#fff"},
{"offset":0.13,"color":"#555"},{"offset":0.131,"color":"#fff"},{"offset":0.139,"color":"#fff"},
{"offset":0.14,"color":"#555"},{"offset":0.141,"color":"#fff"},{"offset":0.149,"color":"#fff"},
{"offset":0.15,"color":"#555"},{"offset":0.151,"color":"#fff"},{"offset":0.159,"color":"#fff"},
{"offset":0.16,"color":"#555"},{"offset":0.161,"color":"#fff"},{"offset":0.169,"color":"#fff"},
{"offset":0.17,"color":"#555"},{"offset":0.171,"color":"#fff"},{"offset":0.179,"color":"#fff"},
{"offset":0.18,"color":"#555"},{"offset":0.181,"color":"#fff"},{"offset":0.189,"color":"#fff"},
{"offset":0.19,"color":"#555"},{"offset":0.191,"color":"#fff"},{"offset":0.199,"color":"#fff"},
{"offset":0.2,"color":"#555"},{"offset":0.201,"color":"#fff"},{"offset":0.209,"color":"#fff"},
{"offset":0.21,"color":"#555"},{"offset":0.211,"color":"#fff"},{"offset":0.219,"color":"#fff"},
{"offset":0.22,"color":"#555"},{"offset":0.221,"color":"#fff"},{"offset":0.229,"color":"#fff"},
{"offset":0.23,"color":"#555"},{"offset":0.231,"color":"#fff"},{"offset":0.239,"color":"#fff"},
{"offset":0.24,"color":"#555"},{"offset":0.241,"color":"#fff"},{"offset":0.249,"color":"#fff"},
{"offset":0.25,"color":"#555"},{"offset":0.251,"color":"#fff"},{"offset":0.259,"color":"#fff"},
{"offset":0.26,"color":"#555"},{"offset":0.261,"color":"#fff"},{"offset":0.269,"color":"#fff"},
{"offset":0.27,"color":"#555"},{"offset":0.271,"color":"#fff"},{"offset":0.279,"color":"#fff"},
{"offset":0.28,"color":"#555"},{"offset":0.281,"color":"#fff"},{"offset":0.289,"color":"#fff"},
{"offset":0.29,"color":"#555"},{"offset":0.291,"color":"#fff"},{"offset":0.299,"color":"#fff"},
{"offset":0.3,"color":"#555"},{"offset":0.301,"color":"#fff"},{"offset":0.309,"color":"#fff"},
{"offset":0.31,"color":"#555"},{"offset":0.311,"color":"#fff"},{"offset":0.319,"color":"#fff"},
{"offset":0.32,"color":"#555"},{"offset":0.321,"color":"#fff"},{"offset":0.329,"color":"#fff"},
{"offset":0.33,"color":"#555"},{"offset":0.331,"color":"#fff"},{"offset":0.339,"color":"#fff"},
{"offset":0.34,"color":"#555"},{"offset":0.341,"color":"#fff"},{"offset":0.349,"color":"#fff"},
{"offset":0.35,"color":"#555"},{"offset":0.351,"color":"#fff"},{"offset":0.359,"color":"#fff"},
{"offset":0.36,"color":"#555"},{"offset":0.361,"color":"#fff"},{"offset":0.369,"color":"#fff"},
{"offset":0.37,"color":"#555"},{"offset":0.371,"color":"#fff"},{"offset":0.379,"color":"#fff"},
{"offset":0.38,"color":"#555"},{"offset":0.381,"color":"#fff"},{"offset":0.389,"color":"#fff"},
{"offset":0.39,"color":"#555"},{"offset":0.391,"color":"#fff"},{"offset":0.399,"color":"#fff"},
{"offset":0.4,"color":"#555"},{"offset":0.401,"color":"#fff"},{"offset":0.409,"color":"#fff"},
{"offset":0.41,"color":"#555"},{"offset":0.411,"color":"#fff"},{"offset":0.419,"color":"#fff"},
{"offset":0.42,"color":"#555"},{"offset":0.421,"color":"#fff"},{"offset":0.429,"color":"#fff"},
{"offset":0.43,"color":"#555"},{"offset":0.431,"color":"#fff"},{"offset":0.439,"color":"#fff"},
{"offset":0.44,"color":"#555"},{"offset":0.441,"color":"#fff"},{"offset":0.449,"color":"#fff"},
{"offset":0.45,"color":"#555"},{"offset":0.451,"color":"#fff"},{"offset":0.459,"color":"#fff"},
{"offset":0.46,"color":"#555"},{"offset":0.461,"color":"#fff"},{"offset":0.469,"color":"#fff"},
{"offset":0.47,"color":"#555"},{"offset":0.471,"color":"#fff"},{"offset":0.479,"color":"#fff"},
{"offset":0.48,"color":"#555"},{"offset":0.481,"color":"#fff"},{"offset":0.489,"color":"#fff"},
{"offset":0.49,"color":"#555"},{"offset":0.491,"color":"#fff"},{"offset":0.499,"color":"#fff"},
{"offset":0.5,"color":"#555"},{"offset":0.501,"color":"#fff"},{"offset":0.509,"color":"#fff"},
{"offset":0.51,"color":"#555"},{"offset":0.511,"color":"#fff"},{"offset":0.519,"color":"#fff"},
{"offset":0.52,"color":"#555"},{"offset":0.521,"color":"#fff"},{"offset":0.529,"color":"#fff"},
{"offset":0.53,"color":"#555"},{"offset":0.531,"color":"#fff"},{"offset":0.539,"color":"#fff"},
{"offset":0.54,"color":"#555"},{"offset":0.541,"color":"#fff"},{"offset":0.549,"color":"#fff"},
{"offset":0.55,"color":"#555"},{"offset":0.551,"color":"#fff"},{"offset":0.559,"color":"#fff"},
{"offset":0.56,"color":"#555"},{"offset":0.561,"color":"#fff"},{"offset":0.569,"color":"#fff"},
{"offset":0.57,"color":"#555"},{"offset":0.571,"color":"#fff"},{"offset":0.579,"color":"#fff"},
{"offset":0.58,"color":"#555"},{"offset":0.581,"color":"#fff"},{"offset":0.589,"color":"#fff"},
{"offset":0.59,"color":"#555"},{"offset":0.591,"color":"#fff"},{"offset":0.599,"color":"#fff"},
{"offset":0.6,"color":"#555"},{"offset":0.601,"color":"#fff"},{"offset":0.609,"color":"#fff"},
{"offset":0.61,"color":"#555"},{"offset":0.611,"color":"#fff"},{"offset":0.619,"color":"#fff"},
{"offset":0.62,"color":"#555"},{"offset":0.621,"color":"#fff"},{"offset":0.629,"color":"#fff"},
{"offset":0.63,"color":"#555"},{"offset":0.631,"color":"#fff"},{"offset":0.639,"color":"#fff"},
{"offset":0.64,"color":"#555"},{"offset":0.641,"color":"#fff"},{"offset":0.649,"color":"#fff"},
{"offset":0.65,"color":"#555"},{"offset":0.651,"color":"#fff"},{"offset":0.659,"color":"#fff"},
{"offset":0.66,"color":"#555"},{"offset":0.661,"color":"#fff"},{"offset":0.669,"color":"#fff"},
{"offset":0.67,"color":"#555"},{"offset":0.671,"color":"#fff"},{"offset":0.679,"color":"#fff"},
{"offset":0.68,"color":"#555"},{"offset":0.681,"color":"#fff"},{"offset":0.689,"color":"#fff"},
{"offset":0.69,"color":"#555"},{"offset":0.691,"color":"#fff"},{"offset":0.699,"color":"#fff"},
{"offset":0.7,"color":"#555"},{"offset":0.701,"color":"#fff"},{"offset":0.709,"color":"#fff"},
{"offset":0.71,"color":"#555"},{"offset":0.711,"color":"#fff"},{"offset":0.719,"color":"#fff"},
{"offset":0.72,"color":"#555"},{"offset":0.721,"color":"#fff"},{"offset":0.729,"color":"#fff"},
{"offset":0.73,"color":"#555"},{"offset":0.731,"color":"#fff"},{"offset":0.739,"color":"#fff"},
{"offset":0.74,"color":"#555"},{"offset":0.741,"color":"#fff"},{"offset":0.749,"color":"#fff"},
{"offset":0.75,"color":"#555"},{"offset":0.751,"color":"#fff"},{"offset":0.759,"color":"#fff"},
{"offset":0.76,"color":"#555"},{"offset":0.761,"color":"#fff"},{"offset":0.769,"color":"#fff"},
{"offset":0.77,"color":"#555"},{"offset":0.771,"color":"#fff"},{"offset":0.779,"color":"#fff"},
{"offset":0.78,"color":"#555"},{"offset":0.781,"color":"#fff"},{"offset":0.789,"color":"#fff"},
{"offset":0.79,"color":"#555"},{"offset":0.791,"color":"#fff"},{"offset":0.799,"color":"#fff"},
{"offset":0.8,"color":"#555"},{"offset":0.801,"color":"#fff"},{"offset":0.809,"color":"#fff"},
{"offset":0.81,"color":"#555"},{"offset":0.811,"color":"#fff"},{"offset":0.819,"color":"#fff"},
{"offset":0.82,"color":"#555"},{"offset":0.821,"color":"#fff"},{"offset":0.829,"color":"#fff"},
{"offset":0.83,"color":"#555"},{"offset":0.831,"color":"#fff"},{"offset":0.839,"color":"#fff"},
{"offset":0.84,"color":"#555"},{"offset":0.841,"color":"#fff"},{"offset":0.849,"color":"#fff"},
{"offset":0.85,"color":"#555"},{"offset":0.851,"color":"#fff"},{"offset":0.859,"color":"#fff"},
{"offset":0.86,"color":"#555"},{"offset":0.861,"color":"#fff"},{"offset":0.869,"color":"#fff"},
{"offset":0.87,"color":"#555"},{"offset":0.871,"color":"#fff"},{"offset":0.879,"color":"#fff"},
{"offset":0.88,"color":"#555"},{"offset":0.881,"color":"#fff"},{"offset":0.889,"color":"#fff"},
{"offset":0.89,"color":"#555"},{"offset":0.891,"color":"#fff"},{"offset":0.899,"color":"#fff"},
{"offset":0.9,"color":"#555"},{"offset":0.901,"color":"#fff"},{"offset":0.909,"color":"#fff"},
{"offset":0.91,"color":"#555"},{"offset":0.911,"color":"#fff"},{"offset":0.919,"color":"#fff"},
{"offset":0.92,"color":"#555"},{"offset":0.921,"color":"#fff"},{"offset":0.929,"color":"#fff"},
{"offset":0.93,"color":"#555"},{"offset":0.931,"color":"#fff"},{"offset":0.939,"color":"#fff"},
{"offset":0.94,"color":"#555"},{"offset":0.941,"color":"#fff"},{"offset":0.949,"color":"#fff"},
{"offset":0.95,"color":"#555"},{"offset":0.951,"color":"#fff"},{"offset":0.959,"color":"#fff"},
{"offset":0.96,"color":"#555"},{"offset":0.961,"color":"#fff"},{"offset":0.969,"color":"#fff"},
{"offset":0.97,"color":"#555"},{"offset":0.971,"color":"#fff"},{"offset":0.979,"color":"#fff"},
{"offset":0.98,"color":"#555"},{"offset":0.981,"color":"#fff"},{"offset":0.989,"color":"#fff"},
{"offset":0.99,"color":"#555"},{"offset":0.991,"color":"#fff"},{"offset":1,"color":"#fff"}
            ]}}
        },
        {
          "transform": [{"filter": "datum.rank == 6"}],
          "mark": {"type": "area", "stroke": "#111", "strokeWidth": 2, "strokeJoin": "miter",
            "fill": {"gradient": "linear", "x1": 0, "y1": 1, "x2": 1.0942, "y2": 0.8832, "stops": [
{"offset":0,"color":"#555"},{"offset":0.001,"color":"#fff"},{"offset":0.006,"color":"#fff"},
{"offset":0.007,"color":"#555"},{"offset":0.008,"color":"#fff"},{"offset":0.013,"color":"#fff"},
{"offset":0.014,"color":"#555"},{"offset":0.015,"color":"#fff"},{"offset":0.02,"color":"#fff"},
{"offset":0.021,"color":"#555"},{"offset":0.022,"color":"#fff"},{"offset":0.027,"color":"#fff"},
{"offset":0.028,"color":"#555"},{"offset":0.029,"color":"#fff"},{"offset":0.034,"color":"#fff"},
{"offset":0.035,"color":"#555"},{"offset":0.036,"color":"#fff"},{"offset":0.041,"color":"#fff"},
{"offset":0.042,"color":"#555"},{"offset":0.043,"color":"#fff"},{"offset":0.048,"color":"#fff"},
{"offset":0.049,"color":"#555"},{"offset":0.05,"color":"#fff"},{"offset":0.055,"color":"#fff"},
{"offset":0.056,"color":"#555"},{"offset":0.057,"color":"#fff"},{"offset":0.062,"color":"#fff"},
{"offset":0.063,"color":"#555"},{"offset":0.064,"color":"#fff"},{"offset":0.069,"color":"#fff"},
{"offset":0.07,"color":"#555"},{"offset":0.071,"color":"#fff"},{"offset":0.076,"color":"#fff"},
{"offset":0.077,"color":"#555"},{"offset":0.078,"color":"#fff"},{"offset":0.083,"color":"#fff"},
{"offset":0.084,"color":"#555"},{"offset":0.085,"color":"#fff"},{"offset":0.09,"color":"#fff"},
{"offset":0.091,"color":"#555"},{"offset":0.092,"color":"#fff"},{"offset":0.097,"color":"#fff"},
{"offset":0.098,"color":"#555"},{"offset":0.099,"color":"#fff"},{"offset":0.104,"color":"#fff"},
{"offset":0.105,"color":"#555"},{"offset":0.106,"color":"#fff"},{"offset":0.111,"color":"#fff"},
{"offset":0.112,"color":"#555"},{"offset":0.113,"color":"#fff"},{"offset":0.118,"color":"#fff"},
{"offset":0.119,"color":"#555"},{"offset":0.12,"color":"#fff"},{"offset":0.125,"color":"#fff"},
{"offset":0.126,"color":"#555"},{"offset":0.127,"color":"#fff"},{"offset":0.132,"color":"#fff"},
{"offset":0.133,"color":"#555"},{"offset":0.134,"color":"#fff"},{"offset":0.139,"color":"#fff"},
{"offset":0.14,"color":"#555"},{"offset":0.141,"color":"#fff"},{"offset":0.146,"color":"#fff"},
{"offset":0.147,"color":"#555"},{"offset":0.148,"color":"#fff"},{"offset":0.153,"color":"#fff"},
{"offset":0.154,"color":"#555"},{"offset":0.155,"color":"#fff"},{"offset":0.16,"color":"#fff"},
{"offset":0.161,"color":"#555"},{"offset":0.162,"color":"#fff"},{"offset":0.167,"color":"#fff"},
{"offset":0.168,"color":"#555"},{"offset":0.169,"color":"#fff"},{"offset":0.174,"color":"#fff"},
{"offset":0.175,"color":"#555"},{"offset":0.176,"color":"#fff"},{"offset":0.181,"color":"#fff"},
{"offset":0.182,"color":"#555"},{"offset":0.183,"color":"#fff"},{"offset":0.188,"color":"#fff"},
{"offset":0.189,"color":"#555"},{"offset":0.19,"color":"#fff"},{"offset":0.195,"color":"#fff"},
{"offset":0.196,"color":"#555"},{"offset":0.197,"color":"#fff"},{"offset":0.202,"color":"#fff"},
{"offset":0.203,"color":"#555"},{"offset":0.204,"color":"#fff"},{"offset":0.209,"color":"#fff"},
{"offset":0.21,"color":"#555"},{"offset":0.211,"color":"#fff"},{"offset":0.216,"color":"#fff"},
{"offset":0.217,"color":"#555"},{"offset":0.218,"color":"#fff"},{"offset":0.223,"color":"#fff"},
{"offset":0.224,"color":"#555"},{"offset":0.225,"color":"#fff"},{"offset":0.23,"color":"#fff"},
{"offset":0.231,"color":"#555"},{"offset":0.232,"color":"#fff"},{"offset":0.237,"color":"#fff"},
{"offset":0.238,"color":"#555"},{"offset":0.239,"color":"#fff"},{"offset":0.244,"color":"#fff"},
{"offset":0.245,"color":"#555"},{"offset":0.246,"color":"#fff"},{"offset":0.251,"color":"#fff"},
{"offset":0.252,"color":"#555"},{"offset":0.253,"color":"#fff"},{"offset":0.258,"color":"#fff"},
{"offset":0.259,"color":"#555"},{"offset":0.26,"color":"#fff"},{"offset":0.265,"color":"#fff"},
{"offset":0.266,"color":"#555"},{"offset":0.267,"color":"#fff"},{"offset":0.272,"color":"#fff"},
{"offset":0.273,"color":"#555"},{"offset":0.274,"color":"#fff"},{"offset":0.279,"color":"#fff"},
{"offset":0.28,"color":"#555"},{"offset":0.281,"color":"#fff"},{"offset":0.286,"color":"#fff"},
{"offset":0.287,"color":"#555"},{"offset":0.288,"color":"#fff"},{"offset":0.293,"color":"#fff"},
{"offset":0.294,"color":"#555"},{"offset":0.295,"color":"#fff"},{"offset":0.3,"color":"#fff"},
{"offset":0.301,"color":"#555"},{"offset":0.302,"color":"#fff"},{"offset":0.307,"color":"#fff"},
{"offset":0.308,"color":"#555"},{"offset":0.309,"color":"#fff"},{"offset":0.314,"color":"#fff"},
{"offset":0.315,"color":"#555"},{"offset":0.316,"color":"#fff"},{"offset":0.321,"color":"#fff"},
{"offset":0.322,"color":"#555"},{"offset":0.323,"color":"#fff"},{"offset":0.328,"color":"#fff"},
{"offset":0.329,"color":"#555"},{"offset":0.33,"color":"#fff"},{"offset":0.335,"color":"#fff"},
{"offset":0.336,"color":"#555"},{"offset":0.337,"color":"#fff"},{"offset":0.342,"color":"#fff"},
{"offset":0.343,"color":"#555"},{"offset":0.344,"color":"#fff"},{"offset":0.349,"color":"#fff"},
{"offset":0.35,"color":"#555"},{"offset":0.351,"color":"#fff"},{"offset":0.356,"color":"#fff"},
{"offset":0.357,"color":"#555"},{"offset":0.358,"color":"#fff"},{"offset":0.363,"color":"#fff"},
{"offset":0.364,"color":"#555"},{"offset":0.365,"color":"#fff"},{"offset":0.37,"color":"#fff"},
{"offset":0.371,"color":"#555"},{"offset":0.372,"color":"#fff"},{"offset":0.377,"color":"#fff"},
{"offset":0.378,"color":"#555"},{"offset":0.379,"color":"#fff"},{"offset":0.384,"color":"#fff"},
{"offset":0.385,"color":"#555"},{"offset":0.386,"color":"#fff"},{"offset":0.391,"color":"#fff"},
{"offset":0.392,"color":"#555"},{"offset":0.393,"color":"#fff"},{"offset":0.398,"color":"#fff"},
{"offset":0.399,"color":"#555"},{"offset":0.4,"color":"#fff"},{"offset":0.405,"color":"#fff"},
{"offset":0.406,"color":"#555"},{"offset":0.407,"color":"#fff"},{"offset":0.412,"color":"#fff"},
{"offset":0.413,"color":"#555"},{"offset":0.414,"color":"#fff"},{"offset":0.419,"color":"#fff"},
{"offset":0.42,"color":"#555"},{"offset":0.421,"color":"#fff"},{"offset":0.426,"color":"#fff"},
{"offset":0.427,"color":"#555"},{"offset":0.428,"color":"#fff"},{"offset":0.433,"color":"#fff"},
{"offset":0.434,"color":"#555"},{"offset":0.435,"color":"#fff"},{"offset":0.44,"color":"#fff"},
{"offset":0.441,"color":"#555"},{"offset":0.442,"color":"#fff"},{"offset":0.447,"color":"#fff"},
{"offset":0.448,"color":"#555"},{"offset":0.449,"color":"#fff"},{"offset":0.454,"color":"#fff"},
{"offset":0.455,"color":"#555"},{"offset":0.456,"color":"#fff"},{"offset":0.461,"color":"#fff"},
{"offset":0.462,"color":"#555"},{"offset":0.463,"color":"#fff"},{"offset":0.468,"color":"#fff"},
{"offset":0.469,"color":"#555"},{"offset":0.47,"color":"#fff"},{"offset":0.475,"color":"#fff"},
{"offset":0.476,"color":"#555"},{"offset":0.477,"color":"#fff"},{"offset":0.482,"color":"#fff"},
{"offset":0.483,"color":"#555"},{"offset":0.484,"color":"#fff"},{"offset":0.489,"color":"#fff"},
{"offset":0.49,"color":"#555"},{"offset":0.491,"color":"#fff"},{"offset":0.496,"color":"#fff"},
{"offset":0.497,"color":"#555"},{"offset":0.498,"color":"#fff"},{"offset":0.503,"color":"#fff"},
{"offset":0.504,"color":"#555"},{"offset":0.505,"color":"#fff"},{"offset":0.51,"color":"#fff"},
{"offset":0.511,"color":"#555"},{"offset":0.512,"color":"#fff"},{"offset":0.517,"color":"#fff"},
{"offset":0.518,"color":"#555"},{"offset":0.519,"color":"#fff"},{"offset":0.524,"color":"#fff"},
{"offset":0.525,"color":"#555"},{"offset":0.526,"color":"#fff"},{"offset":0.531,"color":"#fff"},
{"offset":0.532,"color":"#555"},{"offset":0.533,"color":"#fff"},{"offset":0.538,"color":"#fff"},
{"offset":0.539,"color":"#555"},{"offset":0.54,"color":"#fff"},{"offset":0.545,"color":"#fff"},
{"offset":0.546,"color":"#555"},{"offset":0.547,"color":"#fff"},{"offset":0.552,"color":"#fff"},
{"offset":0.553,"color":"#555"},{"offset":0.554,"color":"#fff"},{"offset":0.559,"color":"#fff"},
{"offset":0.56,"color":"#555"},{"offset":0.561,"color":"#fff"},{"offset":0.566,"color":"#fff"},
{"offset":0.567,"color":"#555"},{"offset":0.568,"color":"#fff"},{"offset":0.573,"color":"#fff"},
{"offset":0.574,"color":"#555"},{"offset":0.575,"color":"#fff"},{"offset":0.58,"color":"#fff"},
{"offset":0.581,"color":"#555"},{"offset":0.582,"color":"#fff"},{"offset":0.587,"color":"#fff"},
{"offset":0.588,"color":"#555"},{"offset":0.589,"color":"#fff"},{"offset":0.594,"color":"#fff"},
{"offset":0.595,"color":"#555"},{"offset":0.596,"color":"#fff"},{"offset":0.601,"color":"#fff"},
{"offset":0.602,"color":"#555"},{"offset":0.603,"color":"#fff"},{"offset":0.608,"color":"#fff"},
{"offset":0.609,"color":"#555"},{"offset":0.61,"color":"#fff"},{"offset":0.615,"color":"#fff"},
{"offset":0.616,"color":"#555"},{"offset":0.617,"color":"#fff"},{"offset":0.622,"color":"#fff"},
{"offset":0.623,"color":"#555"},{"offset":0.624,"color":"#fff"},{"offset":0.629,"color":"#fff"},
{"offset":0.63,"color":"#555"},{"offset":0.631,"color":"#fff"},{"offset":0.636,"color":"#fff"},
{"offset":0.637,"color":"#555"},{"offset":0.638,"color":"#fff"},{"offset":0.643,"color":"#fff"},
{"offset":0.644,"color":"#555"},{"offset":0.645,"color":"#fff"},{"offset":0.65,"color":"#fff"},
{"offset":0.651,"color":"#555"},{"offset":0.652,"color":"#fff"},{"offset":0.657,"color":"#fff"},
{"offset":0.658,"color":"#555"},{"offset":0.659,"color":"#fff"},{"offset":0.664,"color":"#fff"},
{"offset":0.665,"color":"#555"},{"offset":0.666,"color":"#fff"},{"offset":0.671,"color":"#fff"},
{"offset":0.672,"color":"#555"},{"offset":0.673,"color":"#fff"},{"offset":0.678,"color":"#fff"},
{"offset":0.679,"color":"#555"},{"offset":0.68,"color":"#fff"},{"offset":0.685,"color":"#fff"},
{"offset":0.686,"color":"#555"},{"offset":0.687,"color":"#fff"},{"offset":0.692,"color":"#fff"},
{"offset":0.693,"color":"#555"},{"offset":0.694,"color":"#fff"},{"offset":0.699,"color":"#fff"},
{"offset":0.7,"color":"#555"},{"offset":0.701,"color":"#fff"},{"offset":0.706,"color":"#fff"},
{"offset":0.707,"color":"#555"},{"offset":0.708,"color":"#fff"},{"offset":0.713,"color":"#fff"},
{"offset":0.714,"color":"#555"},{"offset":0.715,"color":"#fff"},{"offset":0.72,"color":"#fff"},
{"offset":0.721,"color":"#555"},{"offset":0.722,"color":"#fff"},{"offset":0.727,"color":"#fff"},
{"offset":0.728,"color":"#555"},{"offset":0.729,"color":"#fff"},{"offset":0.734,"color":"#fff"},
{"offset":0.735,"color":"#555"},{"offset":0.736,"color":"#fff"},{"offset":0.741,"color":"#fff"},
{"offset":0.742,"color":"#555"},{"offset":0.743,"color":"#fff"},{"offset":0.748,"color":"#fff"},
{"offset":0.749,"color":"#555"},{"offset":0.75,"color":"#fff"},{"offset":0.755,"color":"#fff"},
{"offset":0.756,"color":"#555"},{"offset":0.757,"color":"#fff"},{"offset":0.762,"color":"#fff"},
{"offset":0.763,"color":"#555"},{"offset":0.764,"color":"#fff"},{"offset":0.769,"color":"#fff"},
{"offset":0.77,"color":"#555"},{"offset":0.771,"color":"#fff"},{"offset":0.776,"color":"#fff"},
{"offset":0.777,"color":"#555"},{"offset":0.778,"color":"#fff"},{"offset":0.783,"color":"#fff"},
{"offset":0.784,"color":"#555"},{"offset":0.785,"color":"#fff"},{"offset":0.79,"color":"#fff"},
{"offset":0.791,"color":"#555"},{"offset":0.792,"color":"#fff"},{"offset":0.797,"color":"#fff"},
{"offset":0.798,"color":"#555"},{"offset":0.799,"color":"#fff"},{"offset":0.804,"color":"#fff"},
{"offset":0.805,"color":"#555"},{"offset":0.806,"color":"#fff"},{"offset":0.811,"color":"#fff"},
{"offset":0.812,"color":"#555"},{"offset":0.813,"color":"#fff"},{"offset":0.818,"color":"#fff"},
{"offset":0.819,"color":"#555"},{"offset":0.82,"color":"#fff"},{"offset":0.825,"color":"#fff"},
{"offset":0.826,"color":"#555"},{"offset":0.827,"color":"#fff"},{"offset":0.832,"color":"#fff"},
{"offset":0.833,"color":"#555"},{"offset":0.834,"color":"#fff"},{"offset":0.839,"color":"#fff"},
{"offset":0.84,"color":"#555"},{"offset":0.841,"color":"#fff"},{"offset":0.846,"color":"#fff"},
{"offset":0.847,"color":"#555"},{"offset":0.848,"color":"#fff"},{"offset":0.853,"color":"#fff"},
{"offset":0.854,"color":"#555"},{"offset":0.855,"color":"#fff"},{"offset":0.86,"color":"#fff"},
{"offset":0.861,"color":"#555"},{"offset":0.862,"color":"#fff"},{"offset":0.867,"color":"#fff"},
{"offset":0.868,"color":"#555"},{"offset":0.869,"color":"#fff"},{"offset":0.874,"color":"#fff"},
{"offset":0.875,"color":"#555"},{"offset":0.876,"color":"#fff"},{"offset":0.881,"color":"#fff"},
{"offset":0.882,"color":"#555"},{"offset":0.883,"color":"#fff"},{"offset":0.888,"color":"#fff"},
{"offset":0.889,"color":"#555"},{"offset":0.89,"color":"#fff"},{"offset":0.895,"color":"#fff"},
{"offset":0.896,"color":"#555"},{"offset":0.897,"color":"#fff"},{"offset":0.902,"color":"#fff"},
{"offset":0.903,"color":"#555"},{"offset":0.904,"color":"#fff"},{"offset":0.909,"color":"#fff"},
{"offset":0.91,"color":"#555"},{"offset":0.911,"color":"#fff"},{"offset":0.916,"color":"#fff"},
{"offset":0.917,"color":"#555"},{"offset":0.918,"color":"#fff"},{"offset":0.923,"color":"#fff"},
{"offset":0.924,"color":"#555"},{"offset":0.925,"color":"#fff"},{"offset":0.93,"color":"#fff"},
{"offset":0.931,"color":"#555"},{"offset":0.932,"color":"#fff"},{"offset":0.937,"color":"#fff"},
{"offset":0.938,"color":"#555"},{"offset":0.939,"color":"#fff"},{"offset":0.944,"color":"#fff"},
{"offset":0.945,"color":"#555"},{"offset":0.946,"color":"#fff"},{"offset":0.951,"color":"#fff"},
{"offset":0.952,"color":"#555"},{"offset":0.953,"color":"#fff"},{"offset":0.958,"color":"#fff"},
{"offset":0.959,"color":"#555"},{"offset":0.96,"color":"#fff"},{"offset":0.965,"color":"#fff"},
{"offset":0.966,"color":"#555"},{"offset":0.967,"color":"#fff"},{"offset":0.972,"color":"#fff"},
{"offset":0.973,"color":"#555"},{"offset":0.974,"color":"#fff"},{"offset":0.979,"color":"#fff"},
{"offset":0.98,"color":"#555"},{"offset":0.981,"color":"#fff"},{"offset":0.986,"color":"#fff"},
{"offset":0.987,"color":"#555"},{"offset":0.988,"color":"#fff"},{"offset":0.993,"color":"#fff"},
{"offset":0.994,"color":"#555"},{"offset":0.995,"color":"#fff"},{"offset":1,"color":"#fff"}
            ]}}
        },
        {
          "transform": [{"filter": "datum.rank == 7"}],
          "mark": {"type": "area", "stroke": "#111", "strokeWidth": 2, "strokeJoin": "miter", "fill": "#ffffff"}
        }
      ]
    },
    {
      "data": {
        "values": [
          {"label": "Other species", "x": 1992.262, "y": 92.9},
          {"label": "Trypodendron lineatum", "x": 1993.005, "y": 80.4},
          {"label": "Cryphalus", "x": 1991.327, "y": 65.6},
          {"label": "abietis", "x": 1991.255, "y": 58.5},
          {"label": "Ips typographus", "x": 1992.127, "y": 58.5},
          {"label": "Crypturgus pusillus", "x": 1993.534, "y": 59.6},
          {"label": "Dryocoetes", "x": 1993.606, "y": 29.3},
          {"label": "autographus", "x": 1993.622, "y": 22.4},
          {"label": "Pityogenes chalcographus", "x": 1992.218, "y": 16.9}
        ]
      },
      "mark": {"type": "text", "fontSize": 28, "align": "center", "baseline": "alphabetic", "color": "#1a1a1a", "font": "Liberation Sans"},
      "encoding": {
        "x": {"field": "x", "type": "quantitative"},
        "y": {"field": "y", "type": "quantitative"},
        "text": {"field": "label"}
      }
    }
  ]
}
